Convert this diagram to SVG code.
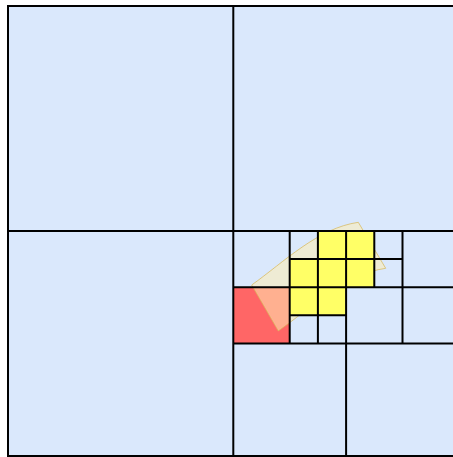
<svg xmlns="http://www.w3.org/2000/svg" width="453" height="457" viewBox="0 0 453 457">
  <style>
    .bg { fill: #dae8fc; }
    .red { fill: #ff6666; }
    .yel { fill: #ffff66; }
    .shape { fill: #ffecb3; fill-opacity: 0.55; stroke: #d6b656; stroke-opacity: 0.7; stroke-width: 1; }
    .grid { fill: none; stroke: #000000; stroke-width: 2; }
  </style>
  <g id="background">
    <rect class="bg" x="8" y="6" width="450.9" height="450"/>
  </g>
  <g id="red-cell">
    <rect class="red" x="233.3" y="287.2" width="56.4" height="56.2"/>
  </g>
  <g id="footprint">
    <path class="shape" d="M251.7,285 C284,262 318,228 358.3,222.3 L385.7,268.3 C345,274 311,308 278.3,331 Z"/>
  </g>
  <g id="yellow-cells">
    <rect class="yel" x="317.9" y="231" width="28.2" height="28.1"/>
    <rect class="yel" x="346.1" y="231" width="28.2" height="28.1"/>
    <rect class="yel" x="289.7" y="259.1" width="28.2" height="28.1"/>
    <rect class="yel" x="317.9" y="259.1" width="28.2" height="28.1"/>
    <rect class="yel" x="346.1" y="259.1" width="28.2" height="28.1"/>
    <rect class="yel" x="289.7" y="287.2" width="28.2" height="28.1"/>
    <rect class="yel" x="317.9" y="287.2" width="28.2" height="28.1"/>
  </g>
  <g id="grid-lines">
    <rect class="grid" x="8" y="6" width="450.9" height="450"/>
    <path class="grid" d="M233.3,6 V456 M8,231 H458.9 M233.3,343.4 H458.9 M346.1,231 V456 M233.3,287.2 H458.9 M289.7,231 V343.4 M402.5,231 V343.4 M317.9,231 V343.4 M289.7,259.1 H402.5 M374.3,231 V287.2 M289.7,315.3 H346.1"/>
  </g>
</svg>
